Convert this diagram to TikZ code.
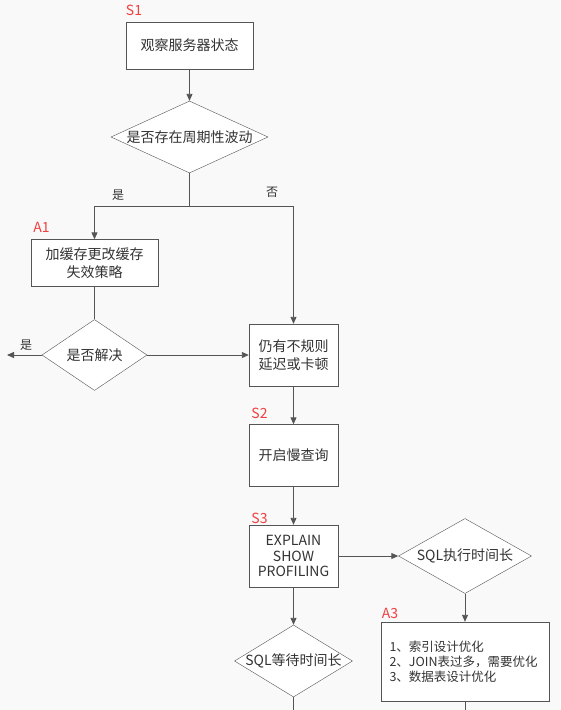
\documentclass[tikz,border=0pt]{standalone}
\usepackage{fontspec}
\setmainfont{Noto Sans CJK SC}
\usetikzlibrary{shapes.geometric, arrows.meta, positioning}
\definecolor{line1}{RGB}{85,85,85}
\definecolor{text1}{RGB}{51,51,51}
\definecolor{red1}{RGB}{240,64,64}
\definecolor{bg1}{RGB}{249,249,249}
\tikzset{
  box/.style={draw=line1, fill=white, text=text1, inner sep=0pt, align=center, font=\fontsize{14}{18}\selectfont},
  decision/.style={diamond, draw=line1, fill=white, inner sep=0pt, label={[text=text1, font=\fontsize{14}{17}\selectfont]center:#1}},
  steplabel/.style={text=red1, font=\fontsize{14}{16}\selectfont, inner sep=0pt},
  yesno/.style={text=text1, font=\fontsize{12}{14}\selectfont, inner sep=0pt},
  conn/.style={draw=line1, line width=0.9pt},
  arr/.style={conn, -{Triangle[length=7pt, width=6pt]}}
}

\begin{document}
\begin{tikzpicture}[x=1pt, y=-1pt]
  \fill[bg1] (0,0) rectangle (560,710);
  \useasboundingbox (0,0) rectangle (560,710);

  \node[box, minimum width=127pt, minimum height=47pt] (s1) at (189.5,45.5) {观察服务器状态};
  \node[steplabel] (s1lab) at (134,10) {S1};
  \node[decision={是否存在周期性波动}, minimum width=157pt, minimum height=72pt] (d1) at (189.5,137) {};
  \coordinate (split) at (189.5,206);

  \node[box, minimum width=127pt, minimum height=47pt] (a1) at (94.5,263) {加缓存更改缓存\\失效策略};
  \node[steplabel] (a1lab) at (41.5,227) {A1};
  \node[decision={是否解决}, minimum width=105pt, minimum height=71pt] (d2) at (94.5,355) {};
  \coordinate (yesout) at (7,355);

  \node[box, minimum width=89pt, minimum height=62pt] (irr) at (293.5,355) {仍有不规则\\延迟或卡顿};
  \node[box, minimum width=89pt, minimum height=62pt] (slow) at (293.5,455.5) {开启慢查询};
  \node[steplabel] (s2lab) at (259.5,413) {S2};
  \node[box, minimum width=89pt, minimum height=62pt, font=\fontsize{14}{15.5}\selectfont] (expl) at (293.5,556) {EXPLAIN\\SHOW\\PROFILING};
  \node[steplabel] (s3lab) at (259.5,518) {S3};

  \node[decision={SQL执行时间长}, minimum width=133pt, minimum height=75pt] (d3) at (465,556) {};
  \node[box, minimum width=168pt, minimum height=79pt, text width=151pt, align=left, inner xsep=8.5pt, font=\fontsize{12.5}{15}\selectfont] (a3) at (465,661.5) {1、索引设计优化\\2、JOIN表过多，需要优化\\3、数据表设计优化};
  \node[steplabel] (a3lab) at (390,613) {A3};
  \coordinate (a3out) at (465,710);

  \node[decision={SQL等待时间长}, minimum width=118pt, minimum height=72pt] (d4) at (293.5,661) {};
  \coordinate (d4out) at (293.5,710);

  \node[yesno] (yes1) at (118,195) {是};
  \node[yesno] (no1) at (272,192) {否};
  \node[yesno] (yes2) at (26,345) {是};

  \draw[arr] (s1) -- (d1);
  \draw[conn] (d1.south) -- (split);
  \draw[arr] (split) -| (a1.north);
  \draw[arr] (split) -| (irr.north);
  \draw[conn] (a1) -- (d2);
  \draw[arr] (d2.west) -- (yesout);
  \draw[arr] (d2.east) -- (irr.west);
  \draw[arr] (irr) -- (slow);
  \draw[arr] (slow) -- (expl);
  \draw[arr] (expl.east) -- (d3.west);
  \draw[arr] (d3.south) -- (a3.north);
  \draw[conn] (a3.south) -- (a3out);
  \draw[arr] (expl.south) -- (d4.north);
  \draw[conn] (d4.south) -- (d4out);
\end{tikzpicture}
\end{document}
